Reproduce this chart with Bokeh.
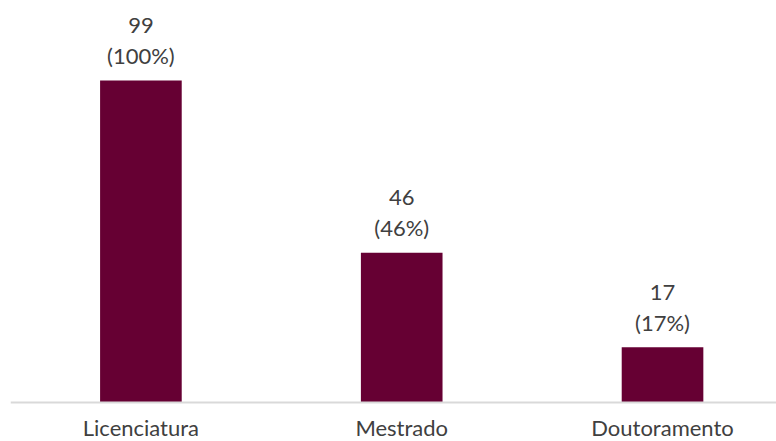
from bokeh.plotting import figure
from bokeh.models import Range1d, FixedTicker, ColumnDataSource
from bokeh.embed import file_html
from bokeh.resources import INLINE
from bokeh.core.properties import value

categories = ["Licenciatura", "Mestrado", "Doutoramento"]
counts = [99, 46, 17]
percent_labels = ["(100%)", "(46%)", "(17%)"]

xpos = [i + 0.5 for i in range(len(categories))]
src = ColumnDataSource(dict(x=xpos, top=counts,
                            num=[str(c) for c in counts],
                            pct=percent_labels))

FONT = "Lato"
TXT = "#404040"

p = figure(width=776, height=441, output_backend="svg", toolbar_location=None,
           x_range=Range1d(0, 2.937), y_range=Range1d(-12.0, 123.6),
           min_border_left=10, min_border_right=0, min_border_top=0, min_border_bottom=0)
p.margin = (0, 0, 0, 0)
p.outline_line_color = None
p.background_fill_color = "white"
p.border_fill_color = "white"
p.grid.visible = False
p.yaxis.visible = False

p.vbar(x="x", top="top", bottom=0, width=0.313, source=src,
       fill_color="#660033", line_color=None)

p.text(x="x", y="top", text="pct", source=src, y_offset=-25,
       text_align="center", text_baseline="middle",
       text_font=value(FONT), text_font_size="22px", text_color=TXT)
p.text(x="x", y="top", text="num", source=src, y_offset=-55,
       text_align="center", text_baseline="middle",
       text_font=value(FONT), text_font_size="22px", text_color=TXT)

xa = p.xaxis[0]
xa.fixed_location = 0
xa.ticker = FixedTicker(ticks=xpos)
xa.major_label_overrides = {x: c for x, c in zip(xpos, categories)}
xa.major_tick_line_color = None
xa.minor_tick_line_color = None
xa.axis_line_color = "#d9d9d9"
xa.axis_line_width = 2
xa.major_label_standoff = 6
xa.major_label_text_font = FONT
xa.major_label_text_font_size = "22px"
xa.major_label_text_color = TXT

open("out.html", "w").write(file_html(p, INLINE))
